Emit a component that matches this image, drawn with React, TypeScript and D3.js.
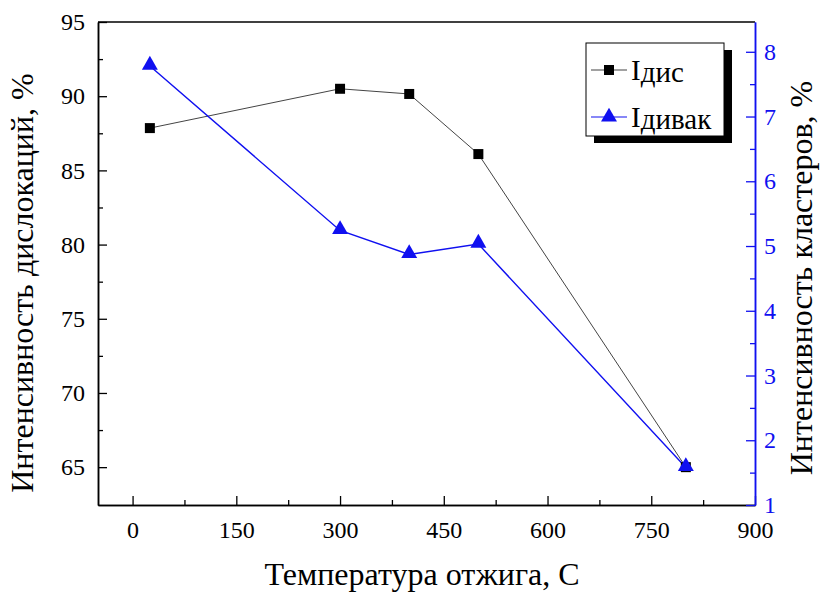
import * as d3 from 'd3';
import React, { useEffect, useRef } from 'react';

const temps = [25, 300, 400, 500, 800];
const disValues = [87.85, 90.5, 90.15, 86.1, 65.0];
const clusterValues = [7.78, 5.24, 4.87, 5.03, 1.58];
const xTicks = [0, 150, 300, 450, 600, 750, 900];
const leftTicks = [65, 70, 75, 80, 85, 90, 95];
const rightTicks = [1, 2, 3, 4, 5, 6, 7, 8];
const legendLabels = ['дис', 'дивак'];

const W = 821;
const H = 594;
const BLUE = '#1010f0';
const FONT = 'Liberation Serif';

function App() {
    const ref = useRef<SVGSVGElement>(null);

    const drawChart = () => {
        const svg = d3.select(ref.current);
        svg.selectAll('*').remove();
        const margin = { top: 22, right: 66, bottom: 89, left: 98 };
        const width = W - margin.left - margin.right;
        const height = H - margin.top - margin.bottom;

        const g = svg.append('g')
            .attr('transform', 'translate(' + margin.left + ',' + margin.top + ')');

        const x = d3.scaleLinear().domain([-50, 900]).range([0, width]);
        const yL = d3.scaleLinear().domain([62.45, 95]).range([height, 0]);
        const yR = d3.scaleLinear().domain([1, 8.46]).range([height, 0]);

        // frame top
        g.append('line').attr('x1', 0).attr('x2', width).attr('y1', 0).attr('y2', 0)
            .attr('stroke', '#000').attr('stroke-width', 1.5);

        // bottom axis (ticks inward)
        const xAxis = g.append('g').attr('transform', 'translate(0,' + height + ')');
        xAxis.call(d3.axisBottom(x).tickValues(xTicks).tickSize(-9).tickSizeOuter(0).tickFormat(d3.format('d')));
        xAxis.append('g').call(d3.axisBottom(x).tickValues(d3.range(75, 900, 150)).tickSize(-5).tickSizeOuter(0).tickFormat(() => ''));
        xAxis.selectAll('.tick text').attr('dy', 0).attr('y', 33);

        // left axis
        const lAxis = g.append('g');
        lAxis.call(d3.axisLeft(yL).tickValues(leftTicks).tickSize(-9).tickSizeOuter(0));
        lAxis.append('g').call(d3.axisLeft(yL).tickValues(d3.range(67.5, 95, 5)).tickSize(-5).tickSizeOuter(0).tickFormat(() => ''));
        lAxis.selectAll('.tick text').attr('x', -13);

        // right axis in blue
        const rAxis = g.append('g').attr('transform', 'translate(' + width + ',0)');
        rAxis.call(d3.axisRight(yR).tickValues(rightTicks).tickSize(-9).tickSizeOuter(0).tickFormat(d3.format('d')));
        rAxis.append('g').call(d3.axisRight(yR).tickValues(d3.range(1.5, 8.5, 1)).tickSize(-5).tickSizeOuter(0).tickFormat(() => ''));
        rAxis.selectAll('.tick text').attr('x', 9).attr('fill', BLUE);
        rAxis.selectAll('line, path').attr('stroke', BLUE);

        svg.selectAll('.domain').attr('stroke-width', 1.5);
        svg.selectAll('.tick line').attr('stroke-width', 1.3);
        svg.selectAll('.tick text').attr('font-family', FONT).attr('font-size', 24);

        // series lines
        g.append('path')
            .datum(temps.map((t, i) => [t, disValues[i]]))
            .attr('fill', 'none').attr('stroke', '#444').attr('stroke-width', 1)
            .attr('d', d3.line().x(d => x(d[0])).y(d => yL(d[1])));
        g.append('path')
            .datum(temps.map((t, i) => [t, clusterValues[i]]))
            .attr('fill', 'none').attr('stroke', BLUE).attr('stroke-width', 1.4)
            .attr('d', d3.line().x(d => x(d[0])).y(d => yR(d[1])));

        const sq = d3.symbol().type(d3.symbolSquare).size(100);
        const tri = d3.symbol().type(d3.symbolTriangle).size(110);
        g.selectAll('.sq').data(temps).enter().append('path')
            .attr('transform', (d, i) => 'translate(' + x(d) + ',' + yL(disValues[i]) + ')')
            .attr('d', sq()).attr('fill', '#000');
        g.selectAll('.tri').data(temps).enter().append('path')
            .attr('transform', (d, i) => 'translate(' + x(d) + ',' + (yR(clusterValues[i]) - 1) + ')')
            .attr('d', tri()).attr('fill', BLUE);

        // axis titles
        svg.append('text').attr('transform', 'translate(33,283) rotate(-90)')
            .attr('text-anchor', 'middle').attr('font-family', FONT).attr('font-size', 32)
            .text('Интенсивность дислокаций, %');
        svg.append('text').attr('transform', 'translate(812,278) rotate(-90)')
            .attr('text-anchor', 'middle').attr('font-family', FONT).attr('font-size', 32)
            .text('Интенсивность кластеров, %');
        svg.append('text').attr('x', 422).attr('y', 585)
            .attr('text-anchor', 'middle').attr('font-family', FONT).attr('font-size', 32)
            .text('Температура отжига, С');

        // legend
        const lg = svg.append('g').attr('transform', 'translate(586,43)');
        lg.append('rect').attr('x', 8).attr('y', 7).attr('width', 138).attr('height', 93).attr('fill', '#000');
        lg.append('rect').attr('x', 0).attr('y', 0).attr('width', 138).attr('height', 93)
            .attr('fill', '#fff').attr('stroke', '#000').attr('stroke-width', 1);
        legendLabels.forEach((lab, i) => {
            const cy = 27 + i * 47;
            const col = i === 0 ? '#000' : BLUE;
            lg.append('line').attr('x1', 5).attr('x2', 41).attr('y1', cy).attr('y2', cy)
                .attr('stroke', i === 0 ? '#444' : BLUE).attr('stroke-width', 1.2);
            lg.append('path').attr('transform', 'translate(23,' + cy + ')')
                .attr('d', i === 0 ? sq() : tri()).attr('fill', col);
            const t = lg.append('text').attr('x', 45).attr('y', cy + 10)
                .attr('font-family', FONT).attr('font-size', 29);
            t.append('tspan').text('I');
            t.append('tspan').attr('dy', 2).text(lab);
        });
    };

    useEffect(() => {
        drawChart();
    }, []);

    return (
        <div style={{ position: 'absolute', left: 0, top: 0 }}>
            <svg ref={ref} width={W} height={H} style={{ display: 'block', background: '#fff' }}></svg>
        </div>
    );
}

export default App;
